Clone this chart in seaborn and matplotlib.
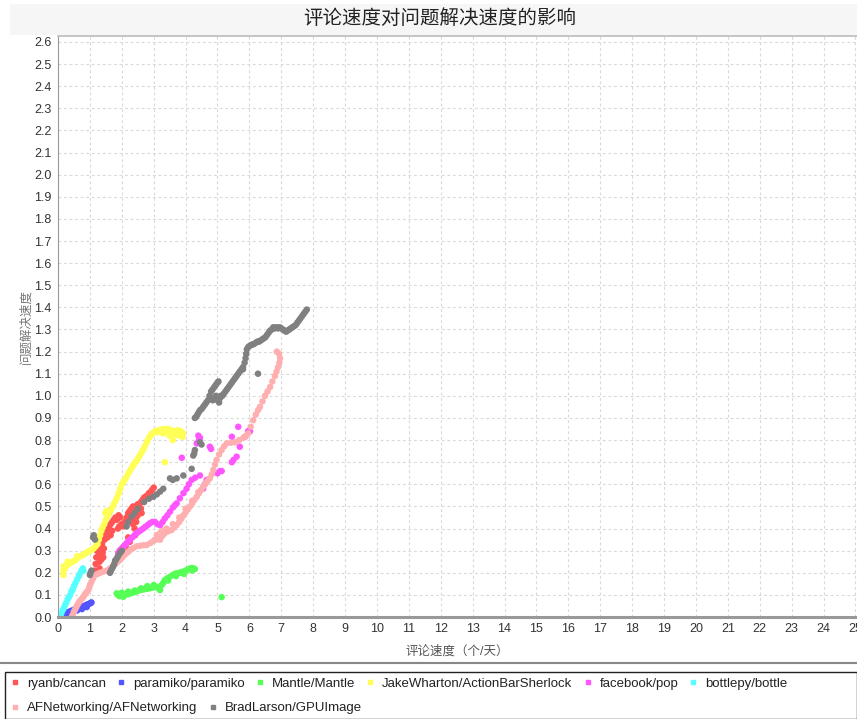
import matplotlib
matplotlib.use("Agg")
import matplotlib.pyplot as plt
from matplotlib.lines import Line2D
from matplotlib.patches import Rectangle
import seaborn as sns
import pandas as pd

# series names and colours (JFreeChart default paints)
series_names = ["ryanb/cancan", "paramiko/paramiko", "Mantle/Mantle",
                "JakeWharton/ActionBarSherlock", "facebook/pop", "bottlepy/bottle",
                "AFNetworking/AFNetworking", "BradLarson/GPUImage"]
series_colors = ["#FF5555", "#5555FF", "#55FF55", "#FFFF55",
                 "#FF55FF", "#55FFFF", "#FFAFAF", "#808080"]

# values: comment speed (x) vs issue-resolving speed (y)
cancan_x = [1.15, 1.18, 1.2, 1.22, 1.25, 1.28, 1.3, 1.32, 1.35, 1.38, 1.4, 1.42, 1.44, 1.46, 1.5,
            1.52, 1.55, 1.6, 1.65, 1.7, 1.75, 1.8, 1.85, 1.9, 1.95, 1.88, 1.92, 2.0, 2.05, 2.1,
            2.15, 2.2, 2.25, 2.3, 2.35, 2.4, 2.45, 2.5, 2.55, 2.3, 2.35, 2.4, 2.42, 2.45, 2.5,
            2.55, 2.2, 2.25, 2.1, 2.15, 2.6, 2.65, 2.7, 2.75, 2.8, 2.85, 2.9, 2.95, 3.0, 1.58,
            1.6, 1.62, 1.7, 1.65, 1.55, 1.3, 1.36, 1.24, 2.6, 2.62, 2.5, 2.45]
cancan_y = [0.21, 0.24, 0.27, 0.3, 0.32, 0.28, 0.25, 0.31, 0.34, 0.33, 0.29, 0.27, 0.31, 0.35, 0.37,
            0.39, 0.4, 0.41, 0.42, 0.43, 0.44, 0.45, 0.44, 0.46, 0.45, 0.4, 0.41, 0.42, 0.41, 0.43,
            0.45, 0.47, 0.48, 0.49, 0.5, 0.49, 0.5, 0.51, 0.5, 0.44, 0.42, 0.4, 0.37, 0.45, 0.47,
            0.48, 0.36, 0.34, 0.32, 0.31, 0.52, 0.53, 0.54, 0.545, 0.55, 0.56, 0.565, 0.575, 0.585, 0.476,
            0.47, 0.48, 0.39, 0.37, 0.36, 0.22, 0.26, 0.35, 0.49, 0.47, 0.46, 0.43]

paramiko_x = [0.02, 0.08, 0.12, 0.18, 0.22, 0.28, 0.32, 0.38, 0.42, 0.48, 0.52, 0.58, 0.62, 0.68,
              0.72, 0.78, 0.82, 0.88, 0.92, 0.98, 1.02, 1.05, 0.3, 0.45, 0.6, 0.75, 0.9, 0.15, 0.35]
paramiko_y = [0.0, 0.004, 0.008, 0.012, 0.016, 0.02, 0.022, 0.026, 0.028, 0.032, 0.034, 0.037, 0.04, 0.043,
              0.045, 0.048, 0.05, 0.054, 0.057, 0.06, 0.063, 0.066, 0.012, 0.02, 0.03, 0.036, 0.045, 0.0, 0.01]

mantle_x = [1.84, 1.88, 1.92, 1.96, 2.0, 2.05, 2.1, 2.15, 2.2, 2.26, 2.32, 2.38, 2.44, 2.5, 2.57,
            2.64, 2.72, 2.8, 2.88, 2.95, 3.02, 3.09, 3.15, 3.2, 3.25, 3.3, 3.35, 3.42, 3.51, 3.6,
            3.66, 3.72, 3.8, 3.87, 3.93, 4.0, 4.07, 4.14, 4.2, 4.25, 4.29, 5.13, 2.0, 2.2, 2.4,
            2.6, 2.8, 3.0, 3.45, 3.7, 3.95, 4.2]
mantle_y = [0.107, 0.1, 0.095, 0.1, 0.095, 0.092, 0.1, 0.105, 0.103, 0.107, 0.11, 0.112, 0.115, 0.118, 0.122,
            0.124, 0.126, 0.128, 0.13, 0.133, 0.135, 0.137, 0.13, 0.122, 0.145, 0.155, 0.167, 0.175, 0.182, 0.19,
            0.195, 0.197, 0.2, 0.203, 0.205, 0.21, 0.215, 0.22, 0.222, 0.22, 0.217, 0.09, 0.11, 0.115, 0.12,
            0.13, 0.14, 0.145, 0.165, 0.185, 0.195, 0.21]

sherlock_x = [0.17, 0.17, 0.18, 0.22, 0.28, 0.34, 0.4, 0.46, 0.52, 0.58, 0.64, 0.7, 0.76, 0.82, 0.88,
              0.94, 1.0, 1.06, 1.12, 1.18, 1.24, 1.28, 1.32, 1.36, 1.4, 1.45, 1.5, 1.55, 1.6, 1.65,
              1.7, 1.75, 1.8, 1.85, 1.9, 1.95, 2.0, 2.05, 2.1, 2.15, 2.2, 2.25, 2.3, 2.35, 2.4,
              2.45, 2.5, 2.55, 2.6, 2.65, 2.7, 2.75, 2.8, 2.85, 2.9, 2.95, 3.0, 3.05, 3.1, 3.15,
              3.2, 3.25, 3.3, 3.35, 3.4, 3.45, 3.5, 3.55, 3.6, 3.65, 3.7, 3.75, 3.8, 3.85, 3.9,
              3.92, 3.35, 3.6, 1.48, 1.52, 0.3, 0.6, 3.3, 3.5, 3.7, 3.9]
sherlock_y = [0.19, 0.21, 0.23, 0.22, 0.235, 0.24, 0.245, 0.25, 0.255, 0.262, 0.27, 0.275, 0.28, 0.285, 0.29,
              0.295, 0.3, 0.305, 0.31, 0.32, 0.33, 0.35, 0.37, 0.39, 0.405, 0.42, 0.44, 0.455, 0.47, 0.48,
              0.495, 0.51, 0.525, 0.54, 0.56, 0.58, 0.6, 0.612, 0.622, 0.635, 0.648, 0.66, 0.672, 0.684, 0.695,
              0.705, 0.715, 0.727, 0.74, 0.752, 0.765, 0.78, 0.795, 0.81, 0.82, 0.83, 0.835, 0.84, 0.835, 0.845,
              0.84, 0.848, 0.85, 0.845, 0.84, 0.85, 0.835, 0.845, 0.83, 0.84, 0.825, 0.845, 0.82, 0.84, 0.815,
              0.83, 0.70, 0.8, 0.47, 0.48, 0.25, 0.275, 0.83, 0.82, 0.84, 0.83]

pop_x = [1.89, 1.93, 1.97, 2.01, 2.05, 2.1, 2.15, 2.2, 2.26, 2.33, 2.4, 2.47, 2.54, 2.6, 2.67,
         2.74, 2.81, 2.88, 2.96, 3.04, 3.12, 3.2, 3.28, 3.35, 3.43, 3.51, 3.6, 3.66, 3.72, 3.82,
         3.93, 4.03, 4.1, 4.19, 4.3, 4.45, 4.55, 4.6, 4.66, 4.35, 4.4, 4.45, 4.42, 3.88, 4.76,
         5.08, 5.13, 5.45, 5.5, 5.6, 5.65, 5.7, 5.86, 5.96, 6.02, 5.45, 4.8, 5.0]
pop_y = [0.29, 0.3, 0.305, 0.312, 0.318, 0.326, 0.334, 0.342, 0.35, 0.36, 0.37, 0.38, 0.387, 0.393, 0.4,
         0.408, 0.416, 0.424, 0.43, 0.43, 0.42, 0.415, 0.43, 0.446, 0.46, 0.476, 0.495, 0.505, 0.514, 0.537,
         0.56, 0.58, 0.6, 0.62, 0.63, 0.64, 0.58, 0.6, 0.62, 0.785, 0.82, 0.81, 0.8, 0.72, 0.77,
         0.66, 0.66, 0.7, 0.71, 0.725, 0.86, 0.77, 0.815, 0.84, 0.84, 0.815, 0.76, 0.65]

bottle_x = [0.05, 0.1, 0.14, 0.18, 0.22, 0.26, 0.3, 0.34, 0.38, 0.42, 0.46, 0.5, 0.55, 0.6, 0.65,
            0.7, 0.74, 0.78, 0.8]
bottle_y = [0.0, 0.015, 0.03, 0.04, 0.055, 0.065, 0.08, 0.09, 0.1, 0.115, 0.125, 0.14, 0.155, 0.17, 0.185,
            0.2, 0.21, 0.22, 0.21]

afn_x = [0.43, 0.46, 0.5, 0.54, 0.58, 0.62, 0.66, 0.7, 0.75, 0.79, 0.83, 0.87, 0.91, 0.95, 0.98,
         1.01, 1.05, 1.1, 1.16, 1.24, 1.32, 1.42, 1.53, 1.63, 1.73, 1.8, 1.87, 1.94, 2.0, 2.07,
         2.13, 2.2, 2.28, 2.36, 2.47, 2.57, 2.68, 2.78, 2.9, 3.0, 3.04, 3.12, 3.2, 3.25, 3.3,
         3.35, 3.45, 3.56, 3.64, 3.72, 3.8, 3.87, 3.93, 4.0, 4.07, 4.14, 4.21, 4.28, 4.35, 4.42,
         4.49, 4.55, 4.62, 4.69, 4.76, 4.82, 4.87, 4.92, 4.97, 5.05, 5.13, 5.21, 5.29, 5.42, 5.55,
         5.68, 5.81, 5.9, 5.96, 6.04, 6.12, 6.2, 6.27, 6.33, 6.41, 6.49, 6.57, 6.65, 6.72, 6.8,
         6.85, 6.9, 6.94, 6.96, 6.93, 6.86, 3.1, 3.2, 3.3, 3.4, 3.6, 3.8, 4.0, 4.2, 4.4]
afn_y = [0.0, 0.01, 0.025, 0.035, 0.047, 0.058, 0.067, 0.075, 0.083, 0.09, 0.1, 0.108, 0.115, 0.122, 0.135,
         0.148, 0.16, 0.175, 0.19, 0.195, 0.2, 0.205, 0.21, 0.22, 0.23, 0.24, 0.25, 0.258, 0.268, 0.278,
         0.287, 0.295, 0.305, 0.312, 0.32, 0.322, 0.325, 0.326, 0.335, 0.345, 0.35, 0.352, 0.35, 0.365, 0.372,
         0.38, 0.387, 0.393, 0.405, 0.416, 0.43, 0.445, 0.46, 0.473, 0.487, 0.5, 0.515, 0.53, 0.544, 0.56,
         0.575, 0.59, 0.603, 0.615, 0.627, 0.645, 0.665, 0.69, 0.71, 0.735, 0.755, 0.772, 0.785, 0.788, 0.79,
         0.8, 0.81, 0.82, 0.83, 0.86, 0.89, 0.915, 0.935, 0.95, 0.975, 1.0, 1.02, 1.04, 1.065, 1.09,
         1.11, 1.13, 1.15, 1.17, 1.19, 1.2, 0.37, 0.38, 0.39, 0.4, 0.42, 0.45, 0.49, 0.525, 0.565]

gpu_x = [1.0, 1.02, 1.05, 1.1, 1.12, 1.16, 1.63, 1.66, 1.7, 1.73, 1.76, 1.79, 1.82, 1.86, 1.9,
         1.95, 2.0, 2.15, 2.2, 2.31, 2.4, 2.5, 2.7, 2.85, 2.99, 3.1, 3.2, 3.3, 3.51, 3.6,
         3.72, 3.93, 4.19, 4.24, 4.27, 4.29, 4.45, 4.5,
         4.29, 4.33, 4.37, 4.41, 4.45, 4.5, 4.55, 4.6, 4.65, 4.7, 4.75, 4.8, 4.85, 4.9, 4.95,
         5.0, 5.03, 4.85, 4.9, 4.95, 5.0, 5.05, 5.08, 5.1, 5.15, 5.2, 5.25, 5.3, 5.35, 5.4,
         5.45, 5.5, 5.55, 5.6, 5.65, 5.7, 5.75, 5.8, 5.85, 5.88, 5.9, 5.92, 5.96, 6.0, 6.05,
         6.1, 6.15, 6.2, 6.25, 6.3, 6.35, 6.4, 6.45, 6.5, 6.55, 6.6, 6.65, 6.7, 6.75, 6.8,
         6.85, 6.9, 6.95, 7.0, 7.05, 7.1, 7.15, 7.2, 7.25, 7.3, 7.35, 7.4, 7.45, 7.5, 7.55,
         7.6, 7.65, 7.7, 7.75, 7.8, 6.27, 5.8]
gpu_y = [0.19, 0.2, 0.21, 0.36, 0.37, 0.35, 0.2, 0.21, 0.22, 0.23, 0.24, 0.255, 0.26, 0.27, 0.28,
         0.29, 0.3, 0.41, 0.43, 0.455, 0.47, 0.49, 0.52, 0.535, 0.544, 0.555, 0.567, 0.58, 0.627, 0.62,
         0.627, 0.64, 0.67, 0.73, 0.74, 0.755, 0.79, 0.78,
         0.9, 0.905, 0.915, 0.925, 0.935, 0.94, 0.95, 0.96, 0.97, 0.98, 1.0, 1.02, 1.03, 1.04, 1.05,
         1.06, 1.065, 0.98, 0.99, 1.0, 0.98, 0.97, 0.99, 1.0, 1.0, 1.01, 1.02, 1.03, 1.04, 1.05,
         1.06, 1.07, 1.08, 1.09, 1.1, 1.11, 1.12, 1.13, 1.15, 1.17, 1.19, 1.21, 1.22, 1.225, 1.23,
         1.232, 1.235, 1.24, 1.245, 1.245, 1.25, 1.255, 1.26, 1.265, 1.275, 1.285, 1.295, 1.3, 1.31, 1.305,
         1.31, 1.305, 1.31, 1.305, 1.3, 1.295, 1.29, 1.295, 1.3, 1.305, 1.31, 1.315, 1.32, 1.33, 1.34,
         1.35, 1.36, 1.37, 1.38, 1.39, 1.1, 1.12]

xs = [cancan_x, paramiko_x, mantle_x, sherlock_x, pop_x, bottle_x, afn_x, gpu_x]
ys = [cancan_y, paramiko_y, mantle_y, sherlock_y, pop_y, bottle_y, afn_y, gpu_y]

frames = []
for name, x, y in zip(series_names, xs, ys):
    frames.append(pd.DataFrame({"x": x, "y": y, "repo": name}))
df = pd.concat(frames, ignore_index=True)

sns.set_style("white")
plt.rcParams["font.family"] = ["Liberation Sans", "Noto Sans CJK SC", "DejaVu Sans"]

fig = plt.figure(figsize=(8.57, 7.19), dpi=100)
fig.patch.set_facecolor("white")
# light band behind the title
fig.patches.append(Rectangle((0.012, 0.952), 0.988, 0.042, transform=fig.transFigure,
                             facecolor="#f6f6f6", edgecolor="none", zorder=0))

ax = fig.add_axes([0.0677, 0.1418, 0.9323, 0.8082])
ax.set_facecolor("white")

# draw later series first so the red series sits on top
draw_order = list(reversed(series_names))
sns.scatterplot(data=df, x="x", y="y", hue="repo", hue_order=draw_order,
                palette=dict(zip(series_names, series_colors)),
                s=22, linewidth=0, marker="o", legend=False, ax=ax)

ax.set_xlim(0, 25.05)
ax.set_ylim(0, 2.627)
ax.set_xticks(range(0, 26))
ax.set_yticks([i / 10 for i in range(0, 27)])
ax.set_yticklabels([f"{i / 10:.1f}" for i in range(0, 27)])
ax.tick_params(axis="both", labelsize=9, colors="#666666", length=2.5, width=0.6,
               direction="out", pad=2)
ax.tick_params(axis="both", labelcolor="#333333")
ax.grid(True, color="#d9d9d9", linestyle=(0, (2.5, 2.5)), linewidth=0.8)
ax.set_axisbelow(True)

ax.spines["right"].set_visible(False)
ax.spines["top"].set_color("#bbbbbb")
ax.spines["top"].set_linewidth(1.2)
ax.spines["left"].set_color("#999999")
ax.spines["left"].set_linewidth(0.8)
ax.spines["bottom"].set_color("#999999")
ax.spines["bottom"].set_linewidth(2.2)

ax.set_xlabel("评论速度（个/天）", fontsize=9, color="#555555", labelpad=7)
ax.set_ylabel("问题解决速度", fontsize=9, color="#777777", labelpad=1)
fig.text(0.513, 0.974, "评论速度对问题解决速度的影响", ha="center", va="center",
         fontsize=14, color="#222222")

# separator and legend box
fig.add_artist(Line2D([0.0, 1.0], [0.0785, 0.0785], transform=fig.transFigure,
                      color="#888888", linewidth=1.5))
fig.patches.append(Rectangle((0.006, 0.0), 0.994, 0.066, transform=fig.transFigure,
                             facecolor="white", edgecolor="#222222", linewidth=1.0, zorder=1))

handles = [Line2D([0], [0], marker="s", linestyle="", markersize=2.2,
                  markerfacecolor=c, markeredgecolor=c) for c in series_colors]
leg_kw = dict(frameon=False, fontsize=9.5, handlelength=0.6, handletextpad=0.6,
              columnspacing=0.85, borderpad=0, borderaxespad=0, labelcolor="#222222")
leg1 = fig.legend(handles[:6], series_names[:6], ncol=6, loc="center left",
                  bbox_to_anchor=(0.013, 0.049), **leg_kw)
leg2 = fig.legend(handles[6:], series_names[6:], ncol=2, loc="center left",
                  bbox_to_anchor=(0.013, 0.015), **leg_kw)

fig.savefig("out.png", dpi=100)
